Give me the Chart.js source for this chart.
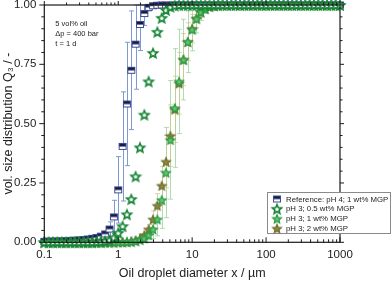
<!DOCTYPE html>
<html>
<head>
<meta charset="utf-8">
<script src="https://cdn.jsdelivr.net/npm/chart.js@4"></script>
<style>
html, body { margin: 0; padding: 0; background: #fff; }
canvas { display: block; }
</style>
</head>
<body>
<canvas id="chart" width="392" height="281"></canvas>
<script>
// droplet size classes (µm)
let sizes = [
  0.1, 0.1145, 0.1311, 0.1501, 0.1719, 0.1968, 0.2254, 0.2581, 0.2955, 0.3384, 0.3875, 0.4437, 0.508, 0.5817, 0.6661, 0.7627, 0.8734,
  1, 1.145, 1.311, 1.501, 1.719, 1.968, 2.254, 2.581, 2.955, 3.384, 3.875, 4.437, 5.08, 5.817, 6.661, 7.627, 8.734,
  10, 11.45, 13.11, 15.01, 17.19, 19.68, 22.54, 25.81, 29.55, 33.84, 38.75, 44.37, 50.8, 58.17, 66.61, 76.27, 87.34,
  100, 114.5, 131.1, 150.1, 171.9, 196.8, 225.4, 258.1, 295.5, 338.4, 387.5, 443.7, 508, 581.7, 666.1, 762.7, 873.4,
  1000
];

// Reference: pH 4; 1 wt% MGP
let refQ3 = [
  0.004, 0.005, 0.005, 0.006, 0.006, 0.007, 0.008, 0.009, 0.010, 0.012, 0.014, 0.017, 0.020, 0.026, 0.035, 0.056, 0.107,
  0.221, 0.404, 0.583, 0.725, 0.835, 0.918, 0.964, 0.990, 0.997, 0.999, 1, 1, 1, 1, 1, 1, 1,
  1, 1, 1, 1, 1, 1, 1, 1, 1, 1, 1, 1, 1, 1, 1, 1, 1,
  1, 1, 1, 1, 1, 1, 1, 1, 1, 1, 1, 1, 1, 1, 1, 1, 1,
  1
];
let refErr = [
  0, 0, 0, 0, 0, 0, 0, 0, 0, 0, 0, 0, 0, 0.005, 0.012, 0.03, 0.07,
  0.14, 0.23, 0.26, 0.25, 0.19, 0.11, 0.05, 0.015, 0.005, 0, 0, 0, 0, 0, 0, 0, 0,
  0, 0, 0, 0, 0, 0, 0, 0, 0, 0, 0, 0, 0, 0, 0, 0, 0,
  0, 0, 0, 0, 0, 0, 0, 0, 0, 0, 0, 0, 0, 0, 0, 0, 0,
  0
];

// pH 3; 0.5 wt% MGP
let ph3Low = [
  0.001, 0.001, 0.001, 0.001, 0.001, 0.001, 0.001, 0.001, 0.001, 0.001, 0.001, 0.001, 0.002, 0.003, 0.005, 0.009, 0.02,
  0.04, 0.068, 0.118, 0.182, 0.278, 0.4, 0.538, 0.678, 0.798, 0.887, 0.946, 0.979, 0.993, 0.998, 1, 1, 1,
  1, 1, 1, 1, 1, 1, 1, 1, 1, 1, 1, 1, 1, 1, 1, 1, 1,
  1, 1, 1, 1, 1, 1, 1, 1, 1, 1, 1, 1, 1, 1, 1, 1, 1,
  1
];

// pH 3; 1 wt% MGP
let ph3Mid = [
  0, 0, 0, 0, 0, 0, 0, 0, 0, 0, 0, 0, 0, 0, 0, 0, 0,
  0.001, 0.001, 0.002, 0.003, 0.005, 0.01, 0.017, 0.031, 0.055, 0.097, 0.179, 0.294, 0.432, 0.566, 0.678, 0.77, 0.845,
  0.897, 0.942, 0.97, 0.984, 0.993, 0.997, 0.999, 1, 1, 1, 1, 1, 1, 1, 1, 1, 1,
  1, 1, 1, 1, 1, 1, 1, 1, 1, 1, 1, 1, 1, 1, 1, 1, 1,
  1
];
let ph3MidErr = [
  0, 0, 0, 0, 0, 0, 0, 0, 0, 0, 0, 0, 0, 0, 0, 0, 0,
  0, 0, 0, 0, 0, 0, 0.01, 0.02, 0.04, 0.07, 0.12, 0.19, 0.25, 0.25, 0.22, 0.17, 0.13,
  0.09, 0.06, 0.035, 0.02, 0.01, 0, 0, 0, 0, 0, 0, 0, 0, 0, 0, 0, 0,
  0, 0, 0, 0, 0, 0, 0, 0, 0, 0, 0, 0, 0, 0, 0, 0, 0,
  0
];

// pH 3; 2 wt% MGP
let ph3High = [
  0, 0, 0, 0, 0, 0, 0, 0, 0, 0, 0, 0, 0, 0, 0, 0, 0,
  0.001, 0.001, 0.002, 0.004, 0.008, 0.015, 0.031, 0.055, 0.097, 0.155, 0.239, 0.34, 0.449, 0.56, 0.67, 0.77, 0.845,
  0.9, 0.944, 0.97, 0.985, 0.993, 0.997, 1, 1, 1, 1, 1, 1, 1, 1, 1, 1, 1,
  1, 1, 1, 1, 1, 1, 1, 1, 1, 1, 1, 1, 1, 1, 1, 1, 1,
  1
];
let ph3HighErr = [
  0, 0, 0, 0, 0, 0, 0, 0, 0, 0, 0, 0, 0, 0, 0, 0, 0,
  0, 0, 0, 0, 0, 0, 0, 0.02, 0.035, 0.05, 0.08, 0.11, 0.13, 0.14, 0.13, 0.11, 0.08,
  0.06, 0.04, 0.02, 0.01, 0, 0, 0, 0, 0, 0, 0, 0, 0, 0, 0, 0, 0,
  0, 0, 0, 0, 0, 0, 0, 0, 0, 0, 0, 0, 0, 0, 0, 0, 0,
  0
];

let seriesNames = ["Reference: pH 4; 1 wt% MGP", "pH 3; 0.5 wt% MGP", "pH 3; 1 wt% MGP", "pH 3; 2 wt% MGP"];
let xTickLabels = [0.1, 1, 10, 100, 1000];
let yTickLabels = [0, 0.25, 0.5, 0.75, 1];
let noteLines = ["5 vol% oil", "\u0394p = 400 bar", "t = 1 d"];

// marker pictures
function makeStar(fill, stroke, r, lw) {
  let s = Math.ceil(r * 2 + 4);
  let c = document.createElement("canvas");
  c.width = s; c.height = s;
  let g = c.getContext("2d");
  g.beginPath();
  for (let i = 0; i < 10; i++) {
    let rad = i % 2 ? r * 0.45 : r;
    let a = -Math.PI / 2 + i * Math.PI / 5;
    g.lineTo(s / 2 + rad * Math.cos(a), s / 2 + 0.6 + rad * Math.sin(a));
  }
  g.closePath();
  g.fillStyle = fill;
  g.fill();
  g.lineWidth = lw;
  g.strokeStyle = stroke;
  g.stroke();
  return c;
}

function makeHalfSquare() {
  let c = document.createElement("canvas");
  c.width = 10; c.height = 9;
  let g = c.getContext("2d");
  g.fillStyle = "#ffffff";
  g.fillRect(1, 1, 8, 7);
  g.fillStyle = "#161a4a";
  g.fillRect(1, 1, 8, 3.6);
  g.strokeStyle = "#3c4c8c";
  g.lineWidth = 1;
  g.strokeRect(1.5, 1.5, 7, 6);
  return c;
}

let squareImg = makeHalfSquare();
let hollowStar = makeStar("#ffffff", "#168536", 4.8, 1.6);
let greenStar = makeStar("#63c46e", "#2a9a45", 4.6, 1.2);
let oliveStar = makeStar("#8c8a3e", "#706d2c", 4.6, 1.2);

function toPoints(vals) {
  return sizes.map((s, i) => ({ x: s, y: vals[i] }));
}

// error bars, drawn from the scales before the markers
let errorBars = {
  id: "errorBars",
  beforeDatasetsDraw(chart) {
    let ctx = chart.ctx;
    let ys = chart.scales.y;
    ctx.save();
    chart.data.datasets.forEach((ds, di) => {
      if (!ds.err) return;
      let meta = chart.getDatasetMeta(di);
      ctx.strokeStyle = ds.errColor;
      ctx.lineWidth = 1;
      meta.data.forEach((pt, i) => {
        let e = ds.err[i];
        if (!e) return;
        let v = ds.data[i].y;
        let top = ys.getPixelForValue(Math.min(v + e, 1));
        let bot = ys.getPixelForValue(Math.max(v - e, 0));
        let px = Math.round(pt.x) + 0.5;
        ctx.beginPath();
        ctx.moveTo(px, top); ctx.lineTo(px, bot);
        ctx.moveTo(px - 2.5, top); ctx.lineTo(px + 2.5, top);
        ctx.moveTo(px - 2.5, bot); ctx.lineTo(px + 2.5, bot);
        ctx.stroke();
      });
    });
    ctx.restore();
  }
};

// frame with ticks on all four sides
let frame = {
  id: "frame",
  afterDatasetsDraw(chart) {
    let ctx = chart.ctx;
    let a = chart.chartArea;
    let xs = chart.scales.x, ys = chart.scales.y;
    ctx.save();
    ctx.strokeStyle = "#1a1a1a";
    ctx.lineWidth = 1.2;
    ctx.strokeRect(a.left, a.top, a.right - a.left, a.bottom - a.top);
    ctx.lineWidth = 1;
    ctx.beginPath();
    for (let d = 0.1; d < 1000; d *= 10) {
      for (let m = 1; m <= 9; m++) {
        let px = xs.getPixelForValue(d * m);
        let big = m === 1;
        ctx.moveTo(px, a.bottom); ctx.lineTo(px, a.bottom - (big ? 5 : 3));
        ctx.moveTo(px, a.top); ctx.lineTo(px, a.top - (big ? 4 : 2.5));
      }
    }
    let pEnd = xs.getPixelForValue(1000);
    ctx.moveTo(pEnd, a.bottom); ctx.lineTo(pEnd, a.bottom - 5);
    ctx.moveTo(pEnd, a.top); ctx.lineTo(pEnd, a.top - 4);
    for (let j = 0; j <= 20; j++) {
      let py = ys.getPixelForValue(j * 0.05);
      let big = j % 5 === 0;
      ctx.moveTo(a.left - (big ? 5 : 3), py); ctx.lineTo(a.left, py);
      ctx.moveTo(a.right, py); ctx.lineTo(a.right + (big ? 4 : 2.5), py);
    }
    ctx.stroke();
    ctx.restore();
  },
  afterDraw(chart) {
    let ctx = chart.ctx;
    let a = chart.chartArea;
    ctx.save();
    // note text
    ctx.fillStyle = "#222";
    ctx.font = "7.5px 'Liberation Sans', Arial, sans-serif";
    ctx.textBaseline = "middle";
    noteLines.forEach((t, i) => ctx.fillText(t, a.left + 11, 24 + i * 10));
    // legend box
    let lx = 267.5, ly = 192.5, lw = 123, lh = 41;
    ctx.fillStyle = "#fff";
    ctx.fillRect(lx, ly, lw, lh);
    ctx.strokeStyle = "#8a8a8a";
    ctx.lineWidth = 1;
    ctx.strokeRect(lx, ly, lw, lh);
    let imgs = [squareImg, hollowStar, greenStar, oliveStar];
    ctx.font = "7.8px 'Liberation Sans', Arial, sans-serif";
    ctx.fillStyle = "#222";
    seriesNames.forEach((name, i) => {
      let cy = 199 + i * 9.8;
      let im = imgs[i];
      ctx.drawImage(im, 277 - im.width / 2, cy - im.height / 2);
      ctx.fillText(name, 286, cy + 0.5);
    });
    ctx.restore();
  }
};

let ctx = document.getElementById("chart");
let myChart = new Chart(ctx, {
  type: "scatter",
  data: {
    datasets: [
      {
        label: seriesNames[1],
        data: toPoints(ph3Low),
        pointStyle: hollowStar,
        showLine: false
      },
      {
        label: seriesNames[2],
        data: toPoints(ph3Mid),
        err: ph3MidErr,
        errColor: "rgba(150,210,150,0.75)",
        pointStyle: greenStar,
        showLine: false
      },
      {
        label: seriesNames[3],
        data: toPoints(ph3High),
        err: ph3HighErr,
        errColor: "rgba(200,200,140,0.75)",
        pointStyle: oliveStar,
        showLine: false
      },
      {
        label: seriesNames[0],
        data: toPoints(refQ3),
        err: refErr,
        errColor: "#7f98d0",
        pointStyle: squareImg,
        showLine: false
      }
    ]
  },
  options: {
    responsive: false,
    animation: false,
    clip: false,
    layout: { padding: { left: 0, right: 52, top: 5, bottom: 0 } },
    plugins: {
      legend: { display: false },
      tooltip: { enabled: false }
    },
    scales: {
      x: {
        type: "logarithmic",
        min: 0.1,
        max: 1000,
        grid: { display: false, drawTicks: false },
        border: { display: false },
        afterBuildTicks(scale) {
          scale.ticks = xTickLabels.map(v => ({ value: v }));
        },
        afterFit(scale) {
          scale.height = 38.7;
          scale.paddingLeft = 0;
          scale.paddingRight = 0;
        },
        ticks: {
          autoSkip: false,
          maxRotation: 0,
          padding: 6,
          color: "#222",
          font: { family: "'Liberation Sans', Arial, sans-serif", size: 11.5 },
          callback: v => String(v)
        },
        title: {
          display: true,
          text: "Oil droplet diameter x / \u00b5m",
          color: "#222",
          padding: { top: 0.5, bottom: 0 },
          font: { family: "'Liberation Sans', Arial, sans-serif", size: 12.5 }
        }
      },
      y: {
        min: 0,
        max: 1,
        grid: { display: false, drawTicks: false },
        border: { display: false },
        afterBuildTicks(scale) {
          scale.ticks = yTickLabels.map(v => ({ value: v }));
        },
        afterFit(scale) {
          scale.width = 44.3;
          scale.paddingTop = 0;
          scale.paddingBottom = 0;
        },
        ticks: {
          padding: 8,
          color: "#222",
          font: { family: "'Liberation Sans', Arial, sans-serif", size: 11.5 },
          callback: v => v.toFixed(2)
        },
        title: {
          display: true,
          text: "vol. size distribution Q\u2083 / -",
          color: "#222",
          padding: { top: 1, bottom: 0 },
          font: { family: "'Liberation Sans', Arial, sans-serif", size: 12.5 }
        }
      }
    }
  },
  plugins: [errorBars, frame]
});
</script>
</body>
</html>
